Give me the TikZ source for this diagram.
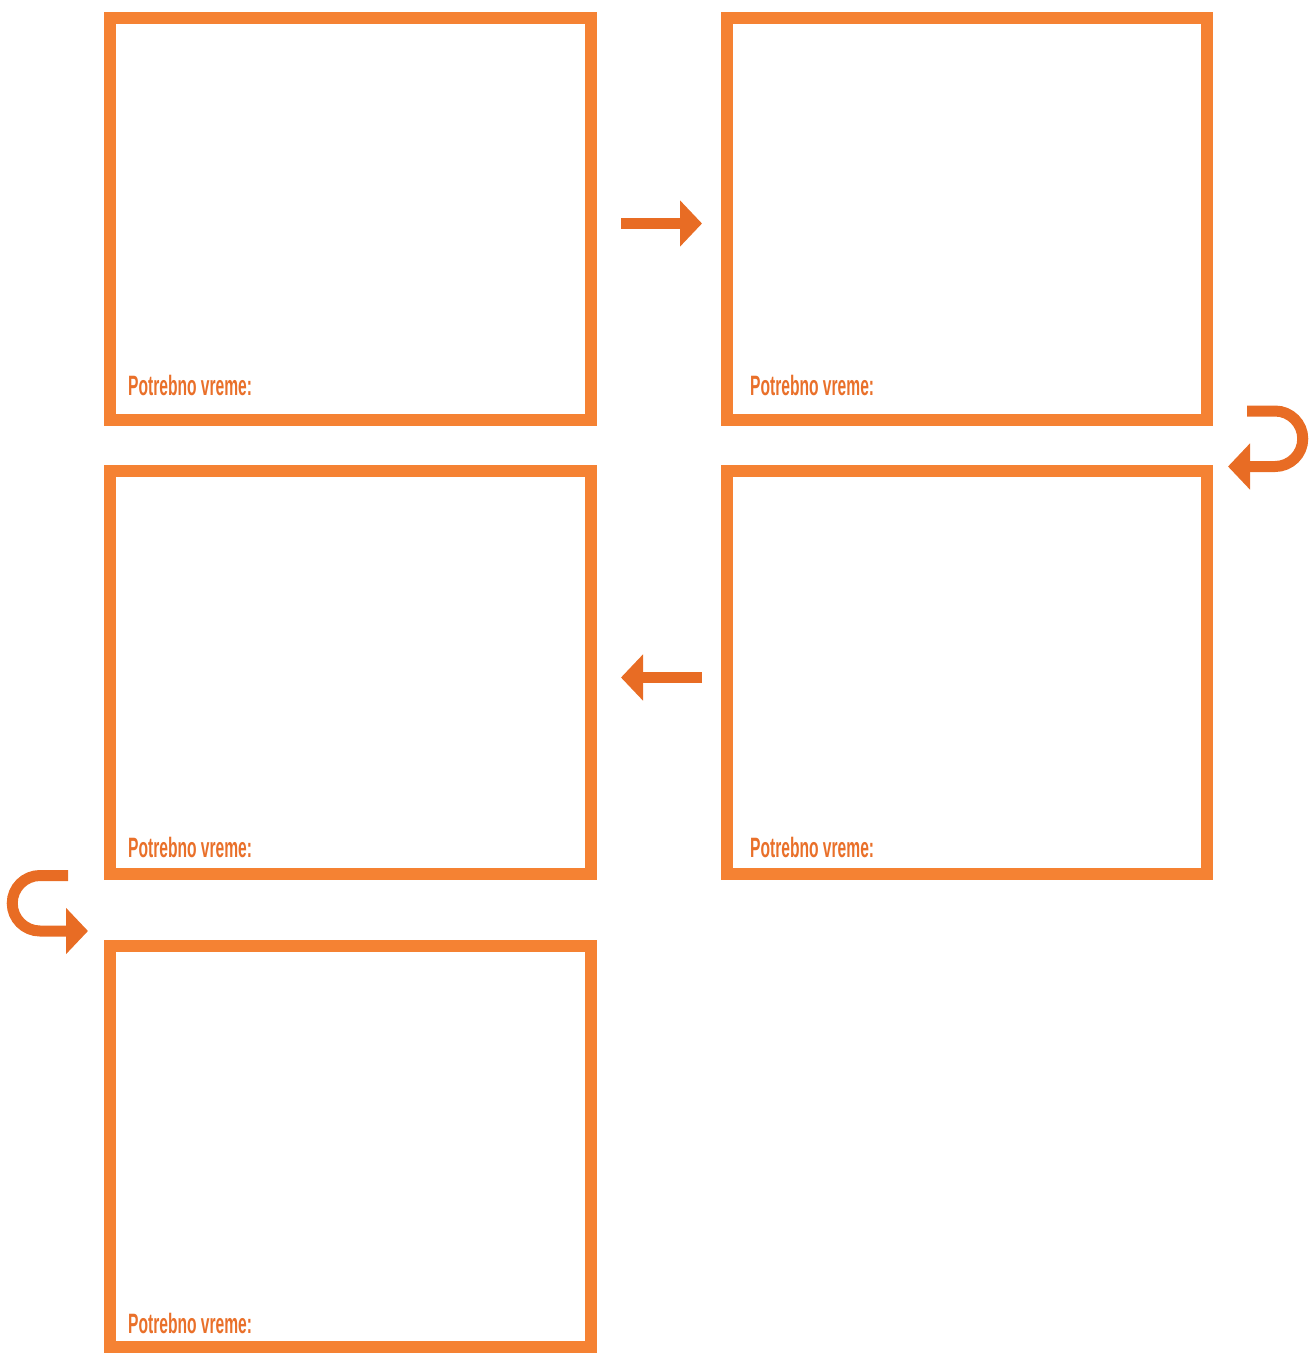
\documentclass[tikz,border=0pt]{standalone}
\usepackage{fontspec}
\setmainfont{Liberation Sans}
\usetikzlibrary{arrows.meta}
\definecolor{boxorange}{HTML}{F58233}
\definecolor{arroworange}{HTML}{E86C24}
\definecolor{textorange}{HTML}{E9702A}
\tikzset{
  card/.style={draw=boxorange, line width=12pt, rectangle, line join=miter, minimum width=481pt, minimum height=402pt, inner sep=0pt},
  flowarrow/.style={draw=arroworange, line width=11pt, -{Triangle[width=45pt,length=22pt]}},
  timelabel/.style={anchor=base west, inner sep=0pt, text=textorange, font=\bfseries\fontsize{28}{30}\selectfont}
}
\newcommand{\timetext}{\scalebox{0.557}[1]{Potrebno vreme:}}
\begin{document}
\begin{tikzpicture}[x=1pt,y=1pt]
\useasboundingbox (0,0) rectangle (1314,-1354);
% boxes
\node[card] (b1) at (350.5,-219) {};
\node[card, minimum width=480pt] (b2) at (967,-219) {};
\node[card, minimum height=403pt] (b3) at (350.5,-672.5) {};
\node[card, minimum width=480pt, minimum height=403pt] (b4) at (967,-672.5) {};
\node[card, minimum height=401pt] (b5) at (350.5,-1146.5) {};
% labels
\node[timelabel] (t1) at (128,-395) {\timetext};
\node[timelabel] (t2) at (750,-395) {\timetext};
\node[timelabel] (t3) at (128,-857) {\timetext};
\node[timelabel] (t4) at (750,-857) {\timetext};
\node[timelabel] (t5) at (128,-1333) {\timetext};
% arrow anchors
\coordinate (a1s) at (621,-223.5);
\coordinate (a1e) at (702,-223.5);
\coordinate (a2s) at (1247,-411);
\coordinate (a2e) at (1228,-466.5);
\coordinate (a3s) at (702,-677.5);
\coordinate (a3e) at (621,-677.5);
\coordinate (a4s) at (68,-875.5);
\coordinate (a4e) at (88,-931);
% arrows
\draw[flowarrow] (a1s) -- (a1e);
\draw[flowarrow] (a2s) -- (1275,-411) arc[start angle=90, end angle=-90, radius=27.75pt] -- (a2e);
\draw[flowarrow] (a3s) -- (a3e);
\draw[flowarrow] (a4s) -- (40,-875.5) arc[start angle=90, end angle=270, radius=27.75pt] -- (a4e);
\end{tikzpicture}
\end{document}
